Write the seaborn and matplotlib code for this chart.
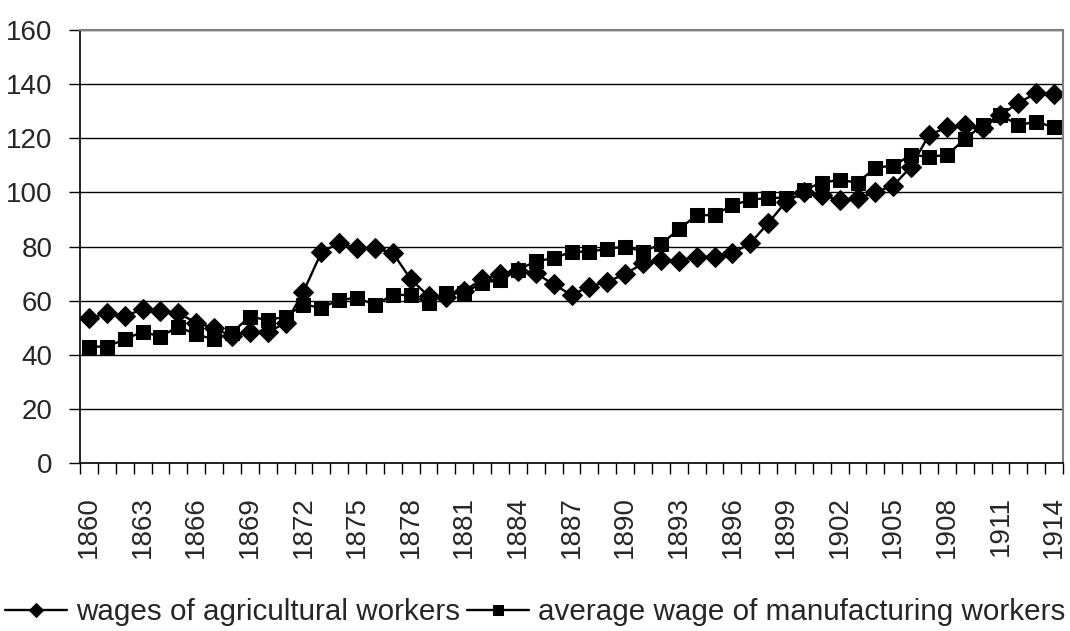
import numpy as np
import pandas as pd
import matplotlib
matplotlib.use('Agg')
import matplotlib.pyplot as plt
import seaborn as sns

years = list(range(1860, 1915))

agricultural = [53.5, 55.3, 54.3, 56.8, 56.0, 55.3, 51.9, 49.8, 46.9, 48.5,
                48.5, 51.6, 63.3, 77.8, 81.4, 79.3, 79.3, 77.7, 67.9, 61.7,
                61.5, 63.7, 67.9, 69.7, 71.1, 70.1, 66.0, 62.1, 65.2, 67.0,
                69.8, 73.8, 75.0, 74.8, 76.3, 76.0, 77.5, 81.2, 88.6, 96.6,
                100.0, 99.0, 97.2, 97.8, 100.0, 102.5, 109.5, 121.2, 124.0, 124.9,
                123.6, 128.5, 133.1, 136.6, 136.4]

manufacturing = [43.0, 43.0, 45.7, 48.5, 46.7, 50.4, 47.5, 45.7, 48.2, 54.1,
                 52.8, 54.1, 58.5, 57.4, 60.2, 61.1, 58.4, 62.1, 62.1, 59.0,
                 62.9, 62.9, 66.6, 67.6, 71.3, 74.6, 75.6, 78.1, 78.1, 79.1,
                 80.0, 78.1, 80.9, 86.3, 91.6, 91.6, 95.3, 97.2, 98.0, 98.0,
                 100.9, 103.6, 104.6, 103.6, 109.1, 109.9, 113.8, 113.2, 113.8, 119.6,
                 124.9, 128.5, 124.9, 126.1, 124.0]

labels = ['wages of agricultural workers', 'average wage of manufacturing workers']
y_ticks = [0, 20, 40, 60, 80, 100, 120, 140, 160]
x_label_years = years[::3]

sns.set_style('white')
plt.rcParams['font.family'] = ['Liberation Sans', 'DejaVu Sans']

df = pd.DataFrame({'year': years, 'agri': agricultural, 'manu': manufacturing})

fig = plt.figure(figsize=(10.7, 6.31), dpi=100)
ax = fig.add_axes([0.0748, 0.2662, 0.9187, 0.6863])

sns.lineplot(data=df, x='year', y='agri', ax=ax, color='black', lw=1.7,
             marker='D', markersize=10, markeredgecolor='black', label=labels[0])
sns.lineplot(data=df, x='year', y='manu', ax=ax, color='black', lw=1.7,
             marker='s', markersize=10, markeredgecolor='black', label=labels[1])

ax.set_xlim(years[0] - 0.5, years[-1] + 0.5)
ax.set_ylim(0, 160)
ax.set_yticks(y_ticks)
ax.set_xticks(x_label_years)
ax.set_xticklabels([str(y) for y in x_label_years], rotation=90)
ax.set_xticks(np.arange(years[0] - 0.5, years[-1] + 1), minor=True)
ax.set_xlabel('')
ax.set_ylabel('')

ax.grid(axis='y', color='black', lw=1)
ax.set_axisbelow(True)
ax.tick_params(axis='x', which='major', length=0, pad=24, labelsize=20)
ax.tick_params(axis='x', which='minor', length=8, width=1, color='black', direction='out')
ax.tick_params(axis='y', length=8, width=1, color='black', direction='out', pad=12, labelsize=20)
ax.tick_params(bottom=True, left=True, which='both')

for side in ['left', 'bottom']:
    ax.spines[side].set_color('black')
    ax.spines[side].set_linewidth(1.2)
for side in ['top', 'right']:
    ax.spines[side].set_color('#808080')
    ax.spines[side].set_linewidth(1.5)

handles, lbls = ax.get_legend_handles_labels()
ax.get_legend().remove()
fig.legend(handles, lbls, loc='center', bbox_to_anchor=(0.5, 0.03), ncol=2,
           frameon=False, fontsize=21.3, handlelength=2.1, handletextpad=0.3,
           columnspacing=0.25, markerscale=0.7)

fig.savefig('out.png', dpi=100)
